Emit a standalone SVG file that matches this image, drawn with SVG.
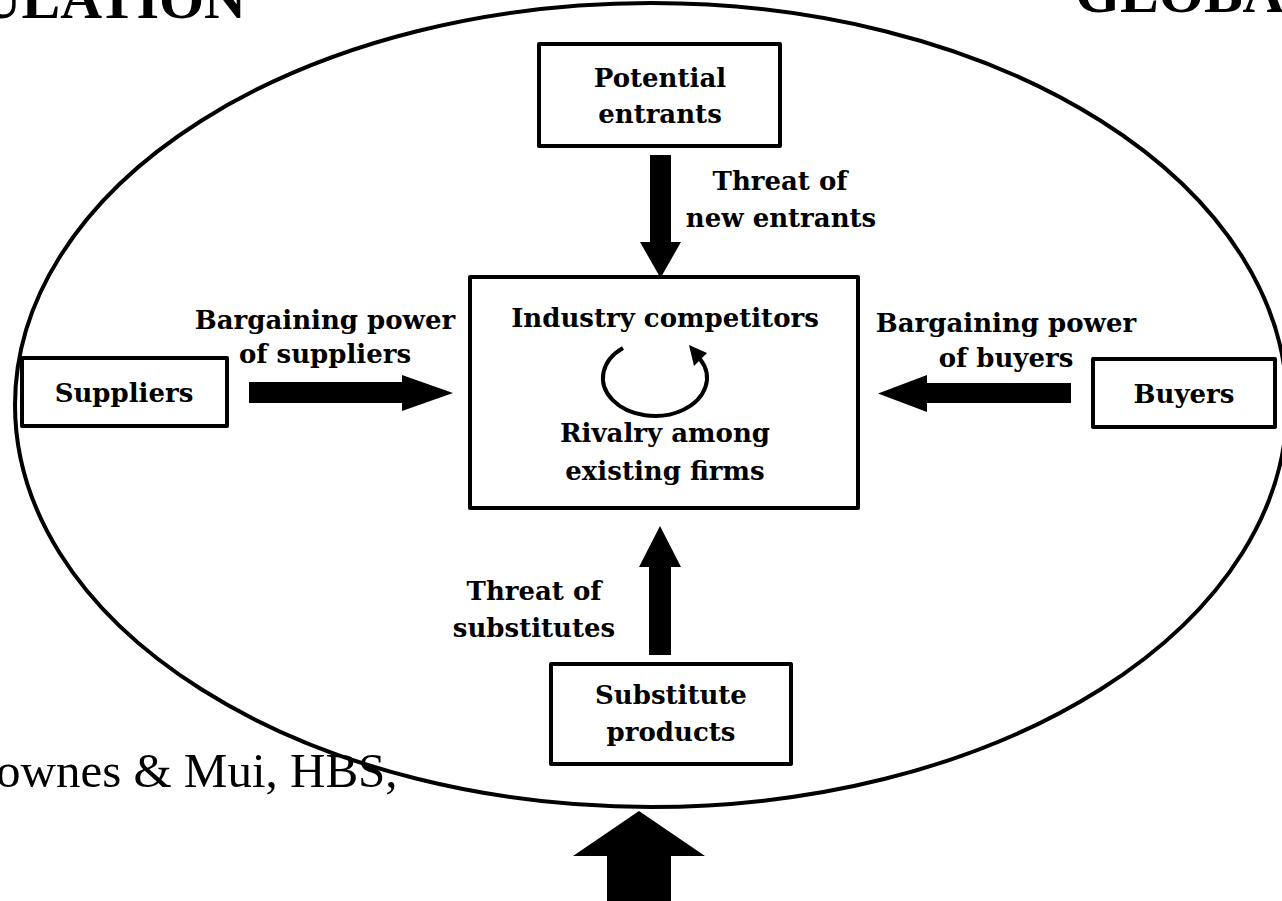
<svg xmlns="http://www.w3.org/2000/svg" width="1282" height="901" viewBox="0 0 1282 901">
<style>
.box{fill:#fff;stroke:#000;stroke-width:4;stroke-linejoin:round}
.lbl{font-family:"DejaVu Serif","Liberation Serif",serif;font-weight:bold;font-size:26px;fill:#000;text-anchor:middle}
.big{font-family:"Liberation Serif",serif;font-weight:bold;font-size:58px;fill:#000}
.cite{font-family:"Liberation Serif",serif;font-size:49px;fill:#000}
.arr{fill:#000;stroke:none}
</style>
<rect width="1282" height="901" fill="#fff"/>
<text class="big" x="246" y="18" text-anchor="end">ULATION</text>
<text class="big" x="1075" y="12">GLOBA</text>
<text class="cite" x="-4" y="787">ownes &amp; Mui, HBS,</text>
<ellipse cx="651" cy="405" rx="636" ry="402" fill="none" stroke="#000" stroke-width="4"/>
<g id="connectors">
<polygon class="arr" points="650,155 671,155 671,242 681,242 660.5,278 640,242 650,242"/>
<polygon class="arr" points="249,382 402,382 402,375 453,393 402,411 402,403 249,403"/>
<polygon class="arr" points="1071,383 927,383 927,375 878,393.5 927,412 927,403 1071,403"/>
<polygon class="arr" points="660,526 681,567 671,567 671,655 649,655 649,567 639,567"/>
<polygon class="arr" points="639,811 705,856 671,856 671,905 607,905 607,856 573,856"/>
<text class="lbl" x="780" y="190">Threat of</text>
<text class="lbl" x="781" y="227">new entrants</text>
<text class="lbl" x="325" y="329">Bargaining power</text>
<text class="lbl" x="325" y="363">of suppliers</text>
<text class="lbl" x="1006" y="332">Bargaining power</text>
<text class="lbl" x="1006" y="367">of buyers</text>
<text class="lbl" x="534" y="600">Threat of</text>
<text class="lbl" x="534" y="637">substitutes</text>
</g>
<g id="potential">
<rect class="box" x="539" y="44" width="241" height="102"/>
<text class="lbl" x="660" y="87">Potential</text>
<text class="lbl" x="660" y="123">entrants</text>
</g>
<g id="industry">
<rect class="box" x="470" y="277" width="388" height="231"/>
<text class="lbl" x="665" y="327">Industry competitors</text>
<path d="M 623 348 A 52 38 0 1 0 700 359" fill="none" stroke="#000" stroke-width="4"/>
<polygon class="arr" points="689,345 707,353 694,366"/>
<text class="lbl" x="665" y="442">Rivalry among</text>
<text class="lbl" x="665" y="480">existing firms</text>
</g>
<g id="suppliers">
<rect class="box" x="22" y="358" width="205" height="68"/>
<text class="lbl" x="124" y="402">Suppliers</text>
</g>
<g id="buyers">
<rect class="box" x="1093" y="359" width="182" height="68"/>
<text class="lbl" x="1184" y="403">Buyers</text>
</g>
<g id="substitutes">
<rect class="box" x="551" y="664" width="240" height="100"/>
<text class="lbl" x="671" y="704">Substitute</text>
<text class="lbl" x="671" y="741">products</text>
</g>
</svg>
